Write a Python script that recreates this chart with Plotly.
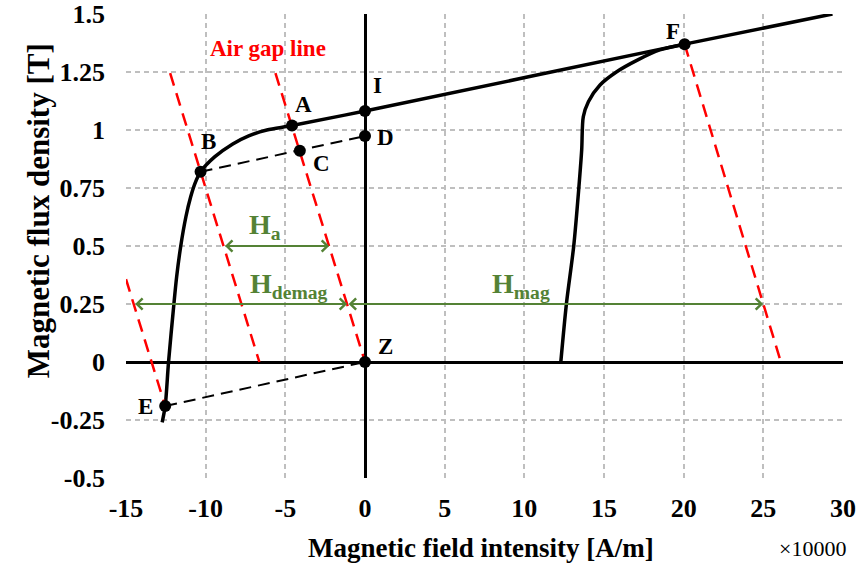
import plotly.graph_objects as go

# ---------------- data (x in units of 10^4 A/m, y in T) ----------------
main_H = [-12.73, -12.54, -12.33, -11.99, -11.82, -11.57, -11.24, -10.94, -10.67, -10.32,
          -9.42, -8.3, -7.3, -6.16, -4.58, 0.0, 20.06, 29.34]
main_B = [-0.26, -0.19, 0.0, 0.253, 0.368, 0.497, 0.626, 0.712, 0.77, 0.82,
          0.885, 0.94, 0.975, 1.0, 1.019, 1.082, 1.37, 1.5]

mag_H = [12.29, 12.64, 13.1, 13.42, 13.6, 13.7, 14.02, 14.75, 15.8, 17.06, 18.5, 20.06]
mag_B = [0.0, 0.25, 0.5, 0.75, 0.914, 1.057, 1.122, 1.194, 1.251, 1.30, 1.345, 1.37]

# air gap lines (start, end)
gap_lines_H = [[-5.62, 0.0], [-12.23, -6.63], [-15.0, -12.54], [20.06, 26.1]]
gap_lines_B = [[1.245, 0.0], [1.245, 0.0], [0.357, -0.19], [1.37, 0.0]]

# black dashed recoil lines
recoil_H = [[-10.32, 0.0], [-12.54, 0.0]]
recoil_B = [[0.82, 0.974], [-0.19, 0.0]]

# labelled points
pt_names = ["A", "B", "C", "D", "E", "F", "I", "Z"]
pt_H = [-4.58, -10.32, -4.09, 0.0, -12.54, 20.06, 0.0, 0.0]
pt_B = [1.019, 0.82, 0.911, 0.974, -0.19, 1.37, 1.082, 0.0]

# green arrows (from, to, level)
arrow_names = ["a", "demag", "mag"]
arrow_from = [-8.88, -14.52, -1.12]
arrow_to = [-2.25, -1.12, 24.99]
arrow_B = [0.5, 0.25, 0.25]

x_ticks = [-15, -10, -5, 0, 5, 10, 15, 20, 25, 30]
y_ticks = [-0.5, -0.25, 0, 0.25, 0.5, 0.75, 1, 1.25, 1.5]

FONT = "Liberation Serif"
GREEN = "#548235"

fig = go.Figure()

fig.add_trace(go.Scatter(x=main_H, y=main_B, mode="lines",
                         line=dict(color="black", width=3.5, shape="spline", smoothing=0.8),
                         showlegend=False, hoverinfo="skip"))
fig.add_trace(go.Scatter(x=mag_H, y=mag_B, mode="lines",
                         line=dict(color="black", width=3.5, shape="spline", smoothing=0.8),
                         showlegend=False, hoverinfo="skip"))

for hx, by in zip(gap_lines_H, gap_lines_B):
    fig.add_trace(go.Scatter(x=hx, y=by, mode="lines",
                             line=dict(color="#ff0000", width=2.5, dash="13px,8px"),
                             showlegend=False, hoverinfo="skip"))

for hx, by in zip(recoil_H, recoil_B):
    fig.add_trace(go.Scatter(x=hx, y=by, mode="lines",
                             line=dict(color="black", width=2, dash="12px,7px"),
                             showlegend=False, hoverinfo="skip"))

fig.add_trace(go.Scatter(x=pt_H, y=pt_B, mode="markers",
                         marker=dict(color="black", size=12),
                         showlegend=False, hoverinfo="skip"))

# point labels
offsets = {"A": (11, 21), "B": (8, 30), "C": (22, -13), "D": (20, -1),
           "E": (-20, 0), "F": (-12, 13), "I": (12, 25), "Z": (20, 16)}
for n, hx, by in zip(pt_names, pt_H, pt_B):
    dx, dy = offsets[n]
    fig.add_annotation(x=hx, y=by, text=n, showarrow=False, xshift=dx, yshift=dy,
                       font=dict(family=FONT, size=23, color="black", weight="bold"))

# arrows
for f, t, b in zip(arrow_from, arrow_to, arrow_B):
    fig.add_annotation(x=t, y=b, ax=f, ay=b, xref="x", yref="y", axref="x", ayref="y",
                       text="", showarrow=True, arrowhead=4, arrowside="end+start",
                       arrowsize=1.0, arrowwidth=2.2, arrowcolor=GREEN)

# arrow labels
fig.add_annotation(x=-6.28, y=0.586, text="H<sub>a</sub>", showarrow=False,
                   font=dict(family=FONT, size=28, color=GREEN, weight="bold"))
fig.add_annotation(x=-4.83, y=0.33, text="H<sub>demag</sub>", showarrow=False,
                   font=dict(family=FONT, size=28, color=GREEN, weight="bold"))
fig.add_annotation(x=9.79, y=0.33, text="H<sub>mag</sub>", showarrow=False,
                   font=dict(family=FONT, size=28, color=GREEN, weight="bold"))

fig.add_annotation(x=-6.1, y=1.35, text="Air gap line", showarrow=False,
                   font=dict(family=FONT, size=23, color="#ff0000", weight="bold"))

# axis titles
fig.add_annotation(xref="paper", yref="paper", x=0.495, y=-0.151,
                   xanchor="center", yanchor="middle",
                   text="Magnetic field intensity [A/m]", showarrow=False,
                   font=dict(family=FONT, size=27, color="black", weight="bold"))
fig.add_annotation(xref="paper", yref="paper", x=-0.1227, y=0.575, textangle=-90,
                   xanchor="center", yanchor="middle",
                   text="Magnetic flux density [T]", showarrow=False,
                   font=dict(family=FONT, size=31, color="black", weight="bold"))
fig.add_annotation(xref="paper", yref="paper", x=0.957, y=-0.153,
                   xanchor="center", yanchor="middle",
                   text="×10000", showarrow=False,
                   font=dict(family=FONT, size=22, color="black"))

fig.update_xaxes(range=[-15, 30], tickvals=x_ticks, ticktext=[str(v) for v in x_ticks],
                 showgrid=True, gridcolor="#bfbfbf", griddash="5px,4px", gridwidth=1.5,
                 zeroline=True, zerolinecolor="black", zerolinewidth=2.5,
                 showline=False, ticks="", ticklabelstandoff=12, automargin=False,
                 tickfont=dict(family=FONT, size=26, color="black", weight="bold"))
fig.update_yaxes(range=[-0.5, 1.5], tickvals=y_ticks,
                 ticktext=[("%g" % v) for v in y_ticks],
                 showgrid=True, gridcolor="#bfbfbf", griddash="5px,4px", gridwidth=1.5,
                 zeroline=True, zerolinecolor="black", zerolinewidth=2.5,
                 showline=False, ticks="", ticklabelstandoff=20, automargin=False,
                 tickfont=dict(family=FONT, size=26, color="black", weight="bold"))

fig.update_layout(width=859, height=569, margin=dict(l=126, r=16, t=14, b=91, autoexpand=False),
                  plot_bgcolor="white", paper_bgcolor="white", showlegend=False)

fig.write_html("out.html")
